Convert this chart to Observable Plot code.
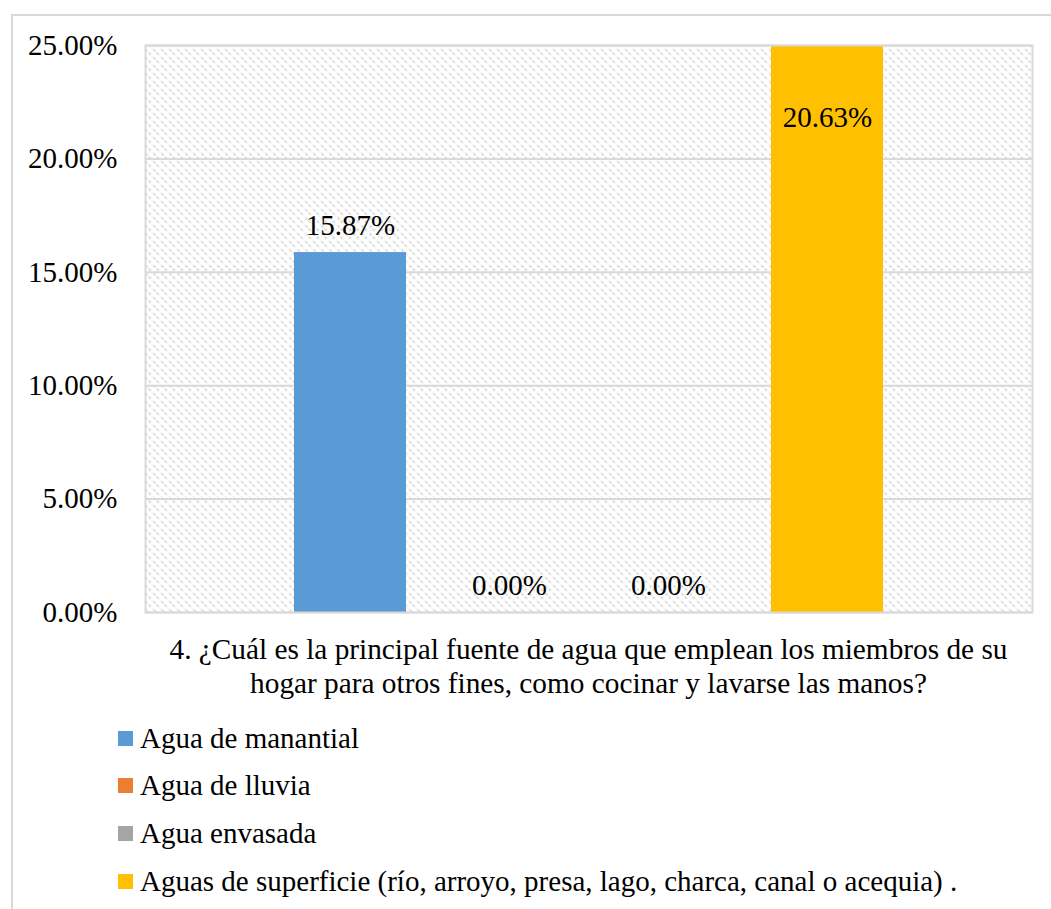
<!DOCTYPE html>
<html>
<head>
<meta charset="utf-8">
<script src="https://cdn.jsdelivr.net/npm/d3@7"></script>
<script src="https://cdn.jsdelivr.net/npm/@observablehq/plot@0.6"></script>
<style>
  html, body { margin: 0; padding: 0; background: #fff; }
  body { width: 1051px; height: 909px; position: relative; overflow: hidden;
         font-family: "Liberation Serif", "Times New Roman", serif; color: #000; }
  #border { position: absolute; left: 11px; top: 14px; width: 1100px; height: 1000px;
            border: 2px solid #d9d9d9; box-sizing: border-box; }
  #chart { position: absolute; left: 0; top: 0; }
  #xtitle { position: absolute; left: 100px; width: 977px; top: 632px; text-align: center;
            font-size: 29.3px; line-height: 34px; white-space: nowrap; }
  .leg { position: absolute; left: 118px; font-size: 29px; line-height: 30px; white-space: nowrap; }
  .leg .sw { position: absolute; left: 0; width: 15px; height: 15px; }
  .leg .tx { position: absolute; left: 22px; }
</style>
</head>
<body>
<div id="border"></div>
<div id="chart"></div>
<div id="xtitle">4. ¿Cuál es la principal fuente de agua que emplean los miembros de su<br>hogar para otros fines, como cocinar y lavarse las manos?</div>
<div id="legend"></div>
<script>
// ---- data ----
const series = ["Agua de manantial", "Agua de lluvia", "Agua envasada",
  "Aguas de superficie (río, arroyo, presa, lago, charca, canal o acequia) ."];
const values = [0.1587, 0, 0, 0.2063];           // data labels shown
const drawnTops = [0.1587, 0, 0, 0.25];          // visible bar tops (last bar runs past the axis top)
const colors = ["#5B9BD5", "#ED7D31", "#A5A5A5", "#FFC000"];
const yTicks = [0, 0.05, 0.10, 0.15, 0.20, 0.25];

const rows = series.map((s, i) => ({series: s, value: values[i], top: drawnTops[i], color: colors[i]}));
const fmt = d => (d * 100).toFixed(2) + "%";

const W = 1051, H = 620;
const plot = Plot.plot({
  width: W, height: H,
  marginLeft: 145, marginRight: 19, marginTop: 45, marginBottom: 8,
  style: {fontFamily: '"Liberation Serif", "Times New Roman", serif', fontSize: "29px", background: "transparent", overflow: "visible"},
  x: {domain: series, range: [269.5, 906.5], paddingInner: 0.2967, paddingOuter: 0.14835, axis: null},
  y: {domain: [0, 0.25], clamp: true, ticks: yTicks, tickFormat: fmt, tickSize: 0, tickPadding: 28, label: null},
  marks: [
    Plot.frame({fill: "url(#hatch)", stroke: null}),
    Plot.ruleY(yTicks, {stroke: "#d9d9d9", strokeWidth: 2}),
    Plot.barY(rows, {x: "series", y: "top", fill: "color"}),
    Plot.frame({stroke: "#d9d9d9", strokeWidth: 2}),
    Plot.text(rows.filter((d, i) => i < 3), {x: "series", y: "top", text: d => fmt(d.value), dy: -27, fill: "black", fontSize: 29}),
    Plot.text(rows.filter((d, i) => i === 3), {x: "series", y: "top", text: d => fmt(d.value), dy: 72, fill: "black", fontSize: 29})
  ]
});
document.getElementById("chart").appendChild(plot);

// hatch pattern definition for plot area background
const svg = d3.select(plot);
const defs = svg.insert("defs", ":first-child");
const pat = defs.append("pattern").attr("id", "hatch").attr("patternUnits", "userSpaceOnUse")
  .attr("width", 8).attr("height", 8);
pat.append("rect").attr("width", 8).attr("height", 8).attr("fill", "#fff");
pat.append("path").attr("d", "M-2,-2 L10,10 M-2,6 L2,10 M6,-2 L10,2")
  .attr("stroke", "#cfcfcf").attr("stroke-width", 1.8).attr("stroke-dasharray", "2.5,2");

// legend
const legTops = [738, 785, 833, 881];
const leg = document.getElementById("legend");
series.forEach((s, i) => {
  const row = document.createElement("div");
  row.className = "leg";
  row.style.top = (legTops[i] - 15) + "px";
  row.innerHTML = `<span class="sw" style="background:${colors[i]};top:8px"></span><span class="tx">${s}</span>`;
  leg.appendChild(row);
});
</script>
</body>
</html>
